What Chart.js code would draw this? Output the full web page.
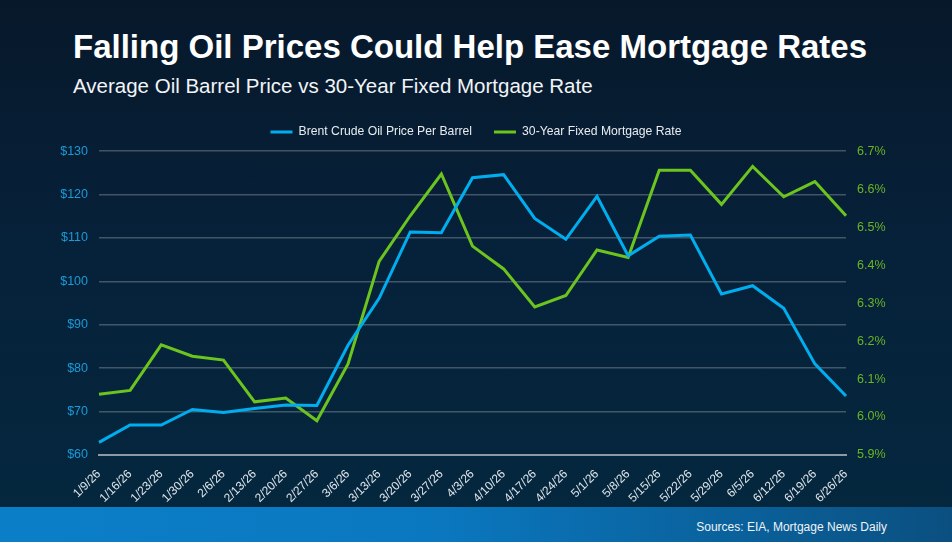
<!DOCTYPE html>
<html>
<head>
<meta charset="utf-8">
<script src="https://cdn.jsdelivr.net/npm/chart.js@4.4.1/dist/chart.umd.min.js"></script>
<style>
  html, body { margin: 0; padding: 0; }
  body { width: 952px; height: 542px; position: relative; overflow: hidden;
    background: linear-gradient(180deg, #07182a 0%, #06213a 45%, #04283f 100%);
    font-family: "Liberation Sans", Arial, sans-serif; }
  .title { position: absolute; left: 73px; top: 27px; color: #fff; font-weight: bold;
    font-size: 33px; line-height: 40px; white-space: nowrap; }
  .subtitle { position: absolute; left: 73px; top: 74px; color: #f2f4f6;
    font-size: 20.5px; line-height: 24px; white-space: nowrap; }
  .chart-wrap { position: absolute; left: 0; top: 0; width: 952px; height: 507px; }
  .footer { position: absolute; left: 0; top: 507px; width: 952px; height: 35px;
    background: linear-gradient(90deg, #0a7fc8 0%, #0a78c0 45%, #0a5f98 80%, #0b4f80 100%); }
  .footer span { position: absolute; right: 65px; top: 13px; color: #eef3f8; font-size: 12px; }
</style>
</head>
<body>
<div class="title">Falling Oil Prices Could Help Ease Mortgage Rates</div>
<div class="subtitle">Average Oil Barrel Price vs 30-Year Fixed Mortgage Rate</div>
<div class="chart-wrap"><canvas id="chart"></canvas></div>
<div class="footer"><span>Sources: EIA, Mortgage News Daily</span></div>
<script>
// weekly dates (2026)
const weeks = ['1/9/26','1/16/26','1/23/26','1/30/26','2/6/26','2/13/26','2/20/26','2/27/26',
  '3/6/26','3/13/26','3/20/26','3/27/26','4/3/26','4/10/26','4/17/26','4/24/26','5/1/26',
  '5/8/26','5/15/26','5/22/26','5/29/26','6/5/26','6/12/26','6/19/26','6/26/26'];

// Brent crude, $ per barrel
const oilPrice = [62.9, 66.9, 66.9, 70.5, 69.8, 70.7, 71.5, 71.4,
  85.3, 96.1, 111.4, 111.2, 123.9, 124.6, 114.5, 109.7, 119.6,
  105.9, 110.4, 110.7, 97.1, 99.0, 93.8, 81.0, 73.6];

// 30-year fixed mortgage rate, %
const mortgageRate = [6.06, 6.07, 6.19, 6.16, 6.15, 6.04, 6.05, 5.99,
  6.14, 6.41, 6.53, 6.64, 6.45, 6.39, 6.29, 6.32, 6.44,
  6.42, 6.65, 6.65, 6.56, 6.66, 6.58, 6.62, 6.53];

const oilTicks = { min: 60, max: 130, step: 10 };
const rateTicks = { min: 5.9, max: 6.7, step: 0.1 };

const BLUE = '#00aeef', GREEN = '#6cc41e';
const gridColor = 'rgba(140,150,160,0.45)';

// pad the legend box a little so the plot starts where the reference does
const legendSpacer = {
  id: 'legendSpacer',
  beforeInit(chart) {
    const fit = chart.legend.fit;
    chart.legend.fit = function () { fit.bind(chart.legend)(); this.height += 3; };
  }
};

new Chart(document.getElementById('chart'), {
  type: 'line',
  data: {
    labels: weeks,
    datasets: [
      { label: 'Brent Crude Oil Price Per Barrel', data: oilPrice, yAxisID: 'yOil',
        borderColor: BLUE, backgroundColor: BLUE, borderWidth: 3, pointRadius: 0, tension: 0 },
      { label: '30-Year Fixed Mortgage Rate', data: mortgageRate, yAxisID: 'yRate',
        borderColor: GREEN, backgroundColor: GREEN, borderWidth: 3, pointRadius: 0, tension: 0 },
    ]
  },
  options: {
    responsive: true, maintainAspectRatio: false, animation: false,
    layout: { padding: { top: 104, left: 0, right: 0, bottom: 0 } },
    plugins: {
      legend: { display: true, position: 'top',
        labels: { color: '#e8ecf0', font: { family: 'Liberation Sans', size: 12.2 },
          usePointStyle: true, pointStyle: 'line', pointStyleWidth: 22, padding: 22 } },
      tooltip: { enabled: false }
    },
    scales: {
      x: {
        grid: { display: false },
        border: { display: true, color: '#8d99a4', width: 2 },
        ticks: { color: '#dfe4ea', font: { family: 'Liberation Sans', size: 12 },
          minRotation: 45, maxRotation: 45, autoSkip: false, padding: 4 },
        afterFit: s => { s.height = 52; }
      },
      yOil: {
        position: 'left', min: oilTicks.min, max: oilTicks.max,
        grid: { color: gridColor, lineWidth: 1.5, drawTicks: false },
        border: { display: false },
        ticks: { stepSize: oilTicks.step, color: '#1b9ad8', padding: 11,
          font: { family: 'Liberation Sans', size: 12.5 }, callback: v => '$' + v },
        afterFit: s => { s.width = 99; }
      },
      yRate: {
        position: 'right', min: rateTicks.min, max: rateTicks.max,
        grid: { display: false, drawTicks: false },
        border: { display: false },
        ticks: { stepSize: rateTicks.step, color: '#6cb423', padding: 11,
          font: { family: 'Liberation Sans', size: 12.5 }, callback: v => v.toFixed(1) + '%' },
        afterFit: s => { s.width = 106; }
      }
    }
  },
  plugins: [legendSpacer]
});
</script>
</body>
</html>
